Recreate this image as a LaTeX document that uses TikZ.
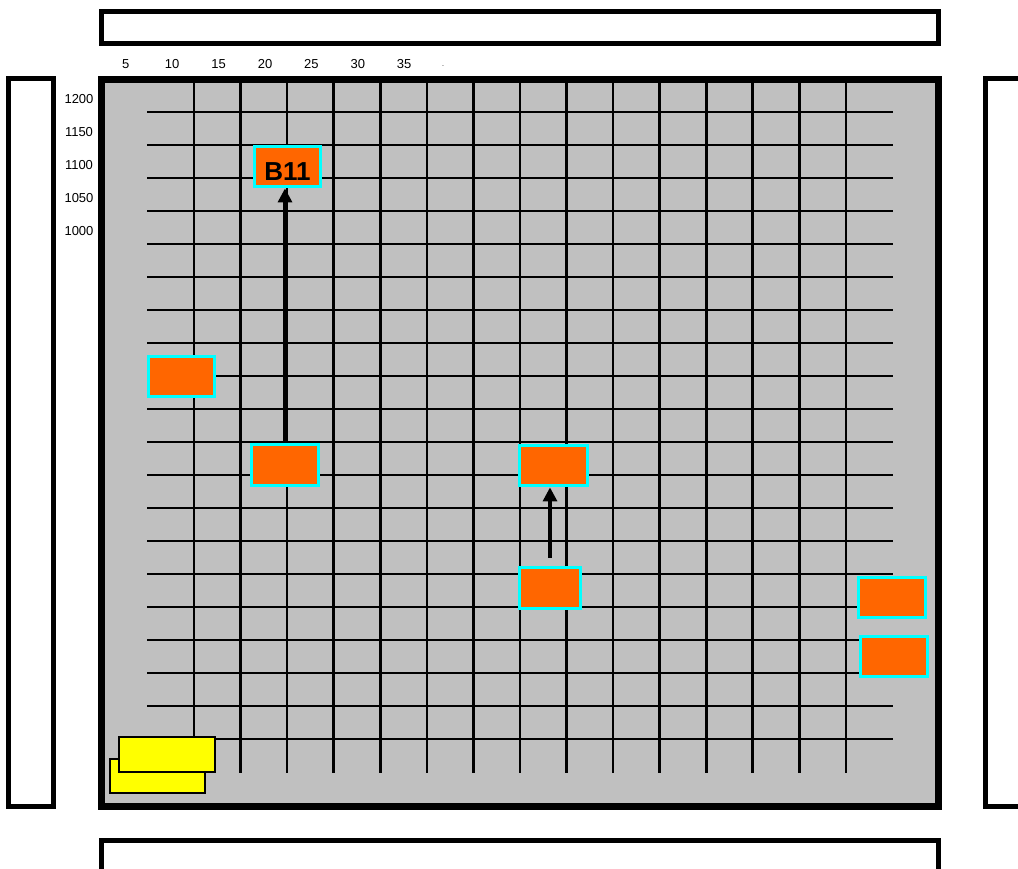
\documentclass[tikz,border=0pt]{standalone}
\usepackage{fontspec}
\setmainfont{Liberation Sans}
\usetikzlibrary{arrows.meta}
\definecolor{bggray}{HTML}{C0C0C0}
\definecolor{boxorange}{HTML}{FF6600}
\definecolor{boxcyan}{HTML}{00FFFF}
\definecolor{boxyellow}{HTML}{FFFF00}
\tikzset{
  panel/.style={draw=black, line width=5pt, fill=white},
  gridline/.style={draw=black, line width=2.7pt},
  obox/.style={draw=boxcyan, fill=boxorange, line width=3.8pt, rectangle, inner sep=0pt},
  ybox/.style={draw=black, fill=boxyellow, line width=2pt, rectangle, inner sep=0pt},
  axlab/.style={font=\fontsize{13}{13}\selectfont, anchor=base, inner sep=0pt},
  arr/.style={draw=black, line width=3.2pt, -{Triangle[width=14pt,length=14pt]}}
}
\begin{document}
\begin{tikzpicture}[x=1pt,y=-1pt]
\useasboundingbox (0,0) rectangle (1018,868);
\clip (0,0) rectangle (1018,868);
\fill[white] (0,0) rectangle (1018,868);
% outer panels
\draw[panel] (101,11.5) rectangle (938,43);
\draw[panel] (101,840.5) rectangle (938,880);
\draw[panel] (8.5,78.5) rectangle (53.5,806.5);
\draw[panel] (985.5,78.5) rectangle (1040,806.5);
% main area
\draw[draw=black, line width=7pt, fill=bggray] (101,79) rectangle (938,806.5);
% grid
\foreach \k in {0,...,14} {
  \draw[gridline] ({194+46.57*\k},82) -- ({194+46.57*\k},773);
}
\foreach \k in {0,...,19} {
  \draw[gridline] (147,{112+33*\k}) -- (893,{112+33*\k});
}
% axis labels
\foreach \v [count=\i from 0] in {5,10,15,20,25,30,35} {
  \node[axlab] (tx\i) at ({125.8+46.4*\i},68.3) {\v};
}
\node[axlab, font=\fontsize{7}{7}\selectfont] (tdot) at (443,66) {.};
\foreach \v [count=\i from 0] in {1200,1150,1100,1050,1000} {
  \node[axlab] (ly\i) at (79,{103.3+33*\i}) {\v};
}
% orange boxes
\node[obox, minimum width=66pt, minimum height=40pt] (B11) at (287.5,166.5) {};
\node[font=\fontsize{26}{26}\selectfont\bfseries, inner sep=0pt] (B11t) at ([yshift=-5pt]B11.center) {B11};
\node[obox, minimum width=66pt, minimum height=40pt] (L) at (181.5,376.5) {};
\node[obox, minimum width=67pt, minimum height=41pt] (A) at (285,465) {};
\node[obox, minimum width=68pt, minimum height=40pt] (C) at (553.5,465.5) {};
\node[obox, minimum width=61pt, minimum height=41pt] (D) at (550,588) {};
\node[obox, minimum width=67pt, minimum height=40pt] (R1) at (892,597.5) {};
\node[obox, minimum width=67pt, minimum height=40pt] (R2) at (894,656.5) {};
% arrows
\draw[arr] (A.north) -- (A.north |- B11.south);
\draw[arr, shorten <=8pt] (D.north) -- (D.north |- C.south);
% yellow boxes
\node[ybox, minimum width=95pt, minimum height=34pt] (Y1) at (157,775.5) {};
\node[ybox, minimum width=96pt, minimum height=35pt] (Y2) at (167,754) {};
\end{tikzpicture}
\end{document}
